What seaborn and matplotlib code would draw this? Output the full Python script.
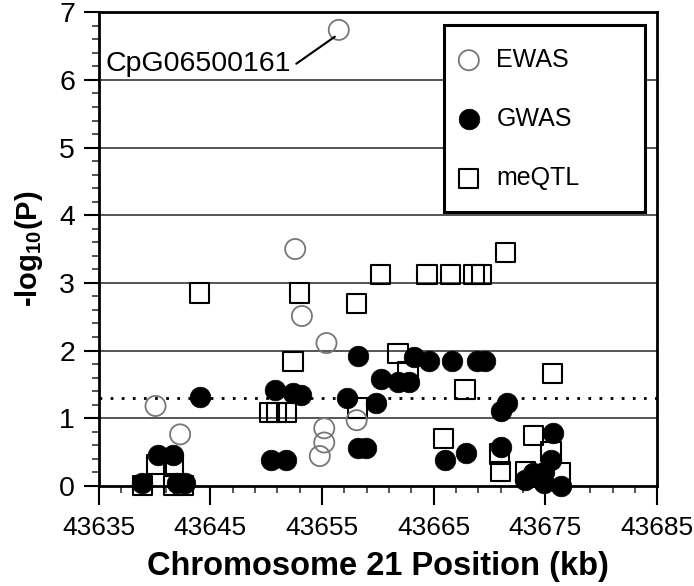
import matplotlib
matplotlib.use("Agg")
import matplotlib.pyplot as plt
import numpy as np
import seaborn as sns

sns.set_style("ticks")
plt.rcParams['font.family'] = ['Liberation Sans', 'DejaVu Sans']
plt.rcParams['mathtext.fontset'] = 'custom'
plt.rcParams['mathtext.rm'] = 'Liberation Sans'
plt.rcParams['mathtext.bf'] = 'Liberation Sans:bold'
plt.rcParams['text.color'] = 'black'
plt.rcParams['axes.labelcolor'] = 'black'
plt.rcParams['xtick.color'] = 'black'
plt.rcParams['ytick.color'] = 'black'

# EWAS hits (position kb, -log10 P)
ewas_pos = [43656.5, 43652.6, 43653.2, 43655.4, 43640.1, 43642.3, 43658.1, 43655.2, 43655.2, 43654.8]
ewas_p = [6.74, 3.50, 2.51, 2.11, 1.18, 0.76, 0.97, 0.85, 0.64, 0.44]

# GWAS hits
gwas_pos = [43638.9, 43640.3, 43641.7, 43642.0, 43642.7, 43644.1,
            43650.4, 43651.8, 43650.8, 43652.4, 43653.1,
            43657.2, 43658.2, 43658.2, 43658.9, 43659.8,
            43660.3, 43661.8, 43662.8, 43663.2, 43664.6, 43666.6,
            43668.9, 43669.6, 43666.0, 43667.9, 43671.0, 43671.6, 43671.0,
            43673.2, 43673.9, 43674.7, 43674.9, 43675.7, 43675.5, 43676.4, 43674.9]
gwas_p = [0.04, 0.45, 0.45, 0.04, 0.04, 1.32,
          0.38, 0.38, 1.42, 1.37, 1.34,
          1.30, 1.92, 0.56, 0.56, 1.22,
          1.58, 1.53, 1.54, 1.91, 1.84, 1.84,
          1.84, 1.84, 0.38, 0.49, 0.58, 1.22, 1.10,
          0.09, 0.19, 0.09, 0.21, 0.78, 0.38, 0.00, 0.04]

# meQTL hits
meqtl_pos = [43638.9, 43640.2, 43641.7, 43641.7, 43642.6,
             43644.0, 43653.0, 43660.2, 43658.1, 43652.4, 43661.8, 43662.7,
             43650.3, 43650.9, 43651.8, 43658.2,
             43671.4, 43664.4, 43666.5, 43668.6, 43669.3,
             43667.8, 43675.6, 43665.9, 43670.9, 43671.0, 43673.9, 43673.2, 43675.5, 43676.3]
meqtl_p = [0.00, 0.31, 0.31, 0.00, 0.00,
           2.85, 2.85, 3.12, 2.70, 1.84, 1.96, 1.69,
           1.08, 1.08, 1.08, 1.15,
           3.45, 3.13, 3.13, 3.13, 3.13,
           1.42, 1.66, 0.70, 0.47, 0.21, 0.74, 0.21, 0.51, 0.19]

top_label = "CpG06500161"
sig_line = 1.301  # -log10(0.05)
x_ticks = [43635, 43645, 43655, 43665, 43675, 43685]

fig = plt.figure(figsize=(6.94, 5.86), dpi=100)
ax = fig.add_axes([0.142, 0.171, 0.805, 0.808])

for yy in range(1, 7):
    ax.axhline(yy, color='#555555', lw=1.4, zorder=0)
ax.axhline(sig_line, color='black', lw=2, ls=(0, (1, 3)), zorder=0)

sns.scatterplot(x=meqtl_pos, y=meqtl_p, marker='s', s=190, facecolor='none',
                edgecolor='black', linewidth=1.5, ax=ax, clip_on=False, zorder=2)
sns.scatterplot(x=ewas_pos, y=ewas_p, marker='o', s=210, facecolor='none',
                edgecolor='#777777', linewidth=1.3, ax=ax, clip_on=False, zorder=3)
sns.scatterplot(x=gwas_pos, y=gwas_p, marker='o', s=220, color='black',
                edgecolor='black', linewidth=0.5, ax=ax, clip_on=False, zorder=4)

cols = ax.collections
cols[0].set_facecolor('none')
cols[0].set_edgecolor('black')
cols[1].set_facecolor('none')
cols[1].set_edgecolor('#777777')

ax.annotate(top_label, xy=(ewas_pos[0] - 0.35, ewas_p[0] - 0.1),
            xytext=(43652.2, 6.24), ha='right', va='center', fontsize=20.5,
            arrowprops=dict(arrowstyle='-', lw=1.5, color='black',
                            relpos=(1, 0.35), shrinkA=2, shrinkB=0))

ax.set_xlim(43635, 43685)
ax.set_ylim(0, 7)
ax.set_xticks(x_ticks)
ax.set_xticks(np.arange(43637, 43685, 2), minor=True)
ax.set_yticks(range(0, 8))
ax.set_yticks(np.arange(0, 7.01, 0.2), minor=True)
ax.tick_params(which='major', direction='out', length=11, width=1.5,
               labelsize=20.5, pad=6)
ax.tick_params(which='minor', direction='out', length=5, width=1.3, color='#444444')
ax.tick_params(axis='x', which='major', length=14, pad=8, labelsize=19)

for side in ['left', 'right', 'top', 'bottom']:
    ax.spines[side].set_visible(True)
    ax.spines[side].set_color('black')
    ax.spines[side].set_linewidth(2)

ax.set_xlabel('Chromosome 21 Position (kb)', fontsize=23.5, fontweight='bold', labelpad=8)
ax.set_ylabel(r'-log$_{\mathbf{10}}$(P)', fontsize=21, fontweight='bold', labelpad=10)

leg = ax.legend([cols[1], cols[2], cols[0]], ['EWAS', 'GWAS', 'meQTL'],
                loc='upper left', bbox_to_anchor=(0.618, 0.5, 0.361, 0.4726),
                mode='expand', fontsize=18,
                frameon=True, fancybox=False, framealpha=1, edgecolor='black',
                borderpad=0.9, labelspacing=1.4, handlelength=0.2,
                handletextpad=1.0, borderaxespad=0, markerscale=1.0)
leg.get_frame().set_linewidth(2.2)
leg.set_zorder(10)

fig.savefig('out.png', dpi=100)
